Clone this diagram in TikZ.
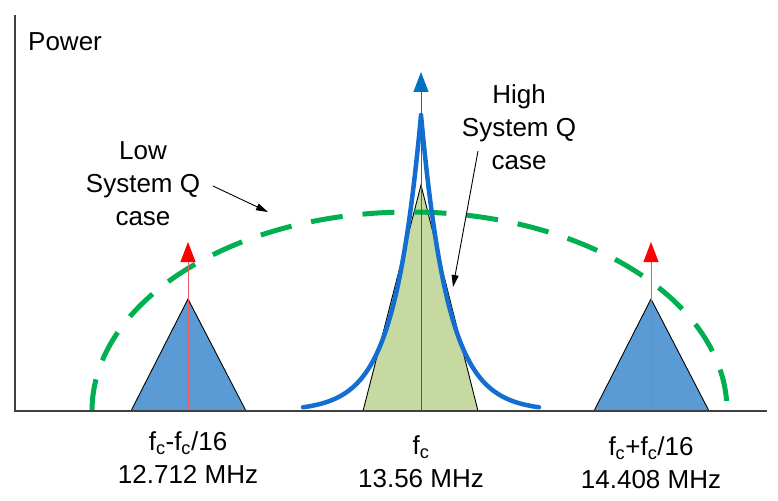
\documentclass[tikz,border=0pt]{standalone}
\usepackage{fontspec}
\setmainfont{Liberation Sans}
\usetikzlibrary{arrows.meta}
\definecolor{triblue}{RGB}{91,155,213}
\definecolor{trigreen}{RGB}{197,217,160}
\definecolor{curveblue}{RGB}{20,110,210}
\definecolor{stemblue}{RGB}{0,112,192}
\definecolor{dashgreen}{RGB}{0,176,80}
\definecolor{axisgray}{RGB}{64,64,64}
\definecolor{stemred}{RGB}{235,90,100}
\begin{document}
\begin{tikzpicture}[x=1pt,y=-1pt,
  axisline/.style={draw=axisgray,line width=1.4pt},
  sidetri/.style={fill=triblue,draw=black,line width=0.9pt,line join=miter},
  centertri/.style={fill=trigreen,draw=black,line width=0.9pt},
  redarrow/.style={draw=stemred,line width=1pt,-{Triangle[length=20pt,width=15pt,fill=red,color=red]}},
  bluearrow/.style={draw=stemblue,line width=1pt,-{Triangle[length=20pt,width=15pt,color=stemblue]}},
  qcurve/.style={draw=curveblue,line width=4.5pt,line cap=round,line join=round},
  lowq/.style={draw=dashgreen,line width=5pt,dash pattern=on 32pt off 20pt},
  pointer/.style={draw=black,line width=0.9pt,-{Triangle[length=12pt,width=7pt]}},
  lbl/.style={font=\fontsize{26}{33}\selectfont,align=center,inner sep=0pt}
]
\useasboundingbox (0,0) rectangle (778,500);
% axes
\coordinate (ytop) at (15,15);
\coordinate (origin) at (15,411);
\coordinate (xend) at (767,411);
% triangles
\coordinate (lb1) at (131,411); \coordinate (lap) at (188,299); \coordinate (lb2) at (246,411);
\coordinate (rb1) at (594,411); \coordinate (rap) at (651,299); \coordinate (rb2) at (709,411);
\coordinate (cb1) at (363,411); \coordinate (cap0) at (421,185); \coordinate (cb2) at (478,411);
\path[sidetri] (lb1) -- (lap) -- (lb2) -- cycle;
\path[sidetri] (rb1) -- (rap) -- (rb2) -- cycle;
\path[centertri] (cb1) -- (cap0) -- (cb2) -- cycle;
% low Q dashed arc
\coordinate (arcstart) at (92,411);
\draw[lowq] (arcstart) arc[start angle=180,end angle=0,x radius=317.5pt,y radius=199pt];
% red arrows
\coordinate (lfoot) at (188,411); \coordinate (ltip) at (188,242);
\coordinate (rfoot) at (651,411); \coordinate (rtip) at (651,242);
\draw[redarrow] (lfoot) -- (ltip);
\draw[redarrow] (rfoot) -- (rtip);
% high Q curve
\draw[qcurve] plot[domain=-118:118,samples=237] ({421+\x},{411-296*exp(-abs(\x)/27)});
% center arrow
\coordinate (cfoot) at (421,411); \coordinate (ctip) at (421,72);
\draw[bluearrow] (cfoot) -- (ctip);
% axes on top
\draw[axisline] (ytop) -- (origin) -- (xend);
% labels
\node[lbl,anchor=west] (power) at (28,42) {Power};
\node[lbl] (low) at (143,184) {Low\\System Q\\case};
\node[lbl] (high) at (519,127) {High\\System Q\\case};
\coordinate (lowtail) at (213,186); \coordinate (lowtip) at (268,212);
\coordinate (hightail) at (478,151); \coordinate (hightip) at (453,287);
\draw[pointer] (lowtail) -- (lowtip);
\draw[pointer] (hightail) -- (hightip);
\node[lbl] (fl) at (188,458) {f\textsubscript{c}-f\textsubscript{c}/16\\12.712 MHz};
\node[lbl] (fm) at (421,462) {f\textsubscript{c}\\13.56 MHz};
\node[lbl] (fr) at (651,463) {f\textsubscript{c}+f\textsubscript{c}/16\\14.408 MHz};
\end{tikzpicture}
\end{document}
